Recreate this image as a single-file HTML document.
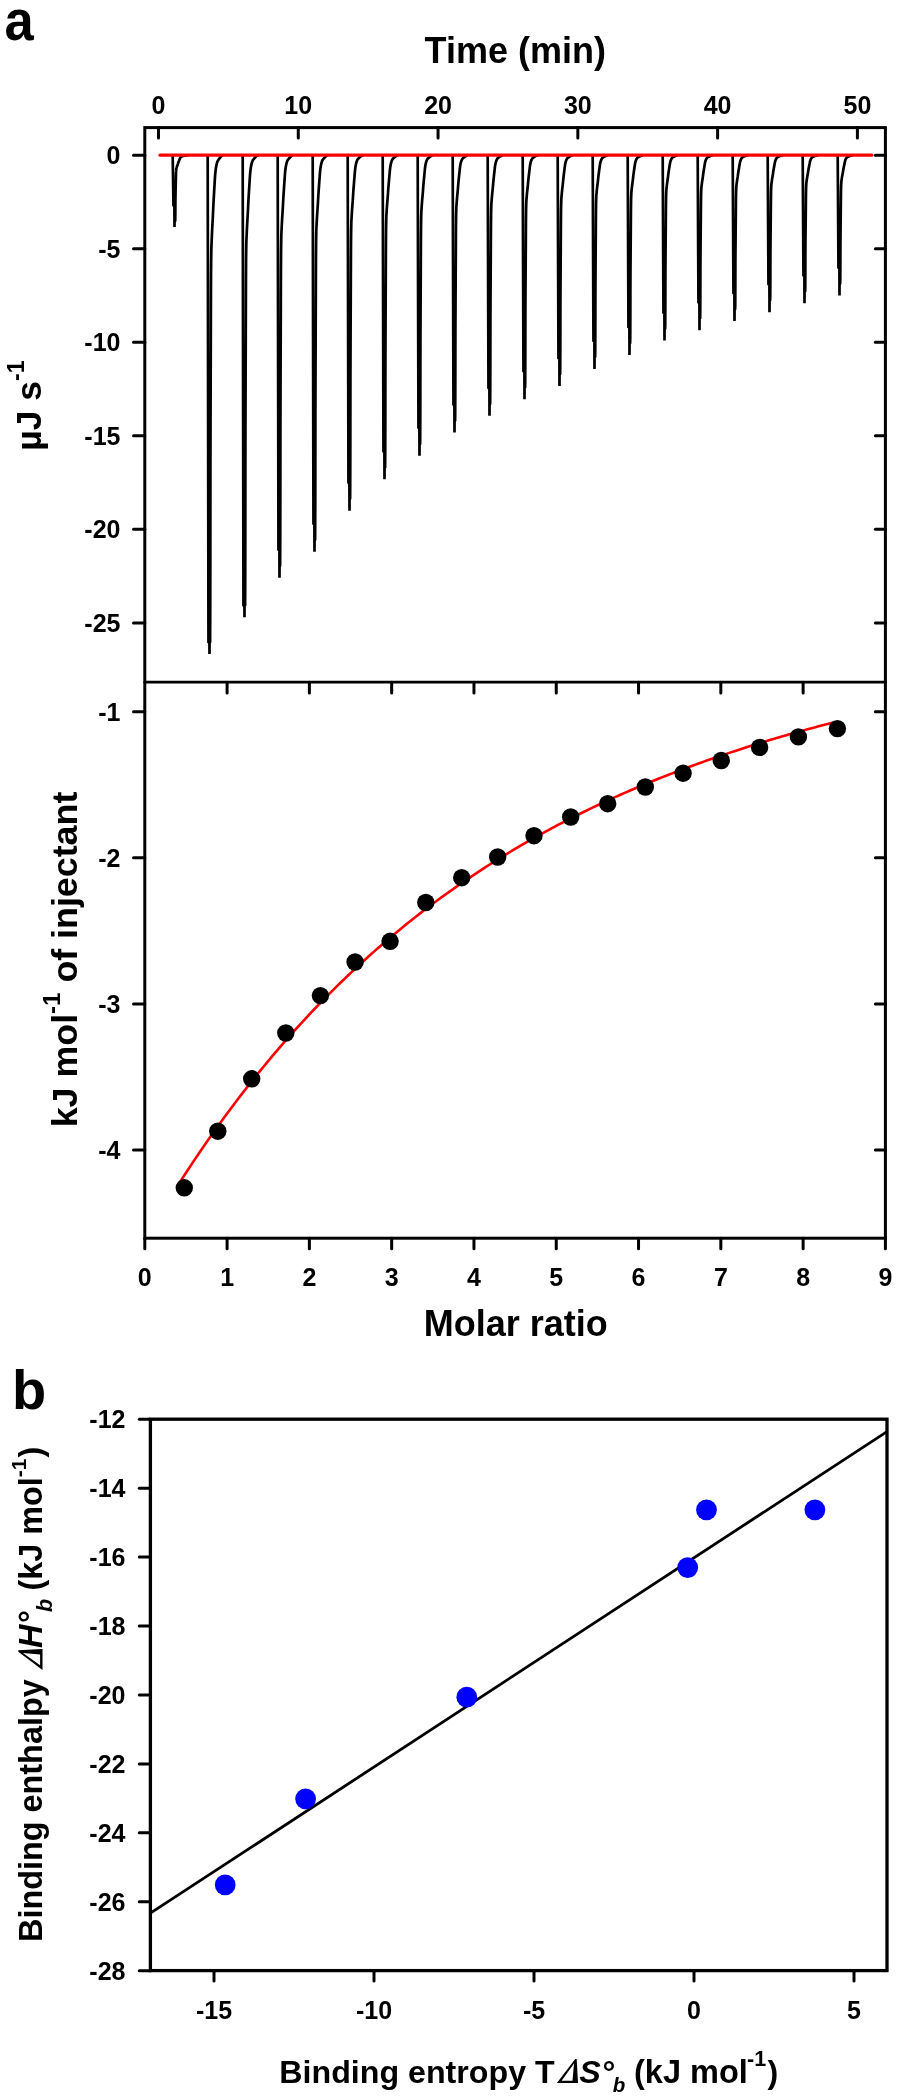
<!DOCTYPE html>
<html><head><meta charset="utf-8"><title>ITC figure</title>
<style>html,body{margin:0;padding:0;background:#fff;}svg{display:block;will-change:transform}text{font-family:"Liberation Sans",sans-serif;}</style>
</head><body>
<svg width="900" height="2099" viewBox="0 0 900 2099">
<rect width="900" height="2099" fill="#fff"/>
<g fill="none" stroke="#000" stroke-width="3" stroke-linecap="round">
<rect x="144.8" y="127.6" width="740.5999999999999" height="1110.6000000000001" stroke-linejoin="miter"/>
<line x1="144.8" y1="682.2" x2="885.4" y2="682.2" stroke-width="2.8"/>
<line x1="158.50" y1="127.6" x2="158.50" y2="137.9"/>
<line x1="298.28" y1="127.6" x2="298.28" y2="137.9"/>
<line x1="438.06" y1="127.6" x2="438.06" y2="137.9"/>
<line x1="577.84" y1="127.6" x2="577.84" y2="137.9"/>
<line x1="717.62" y1="127.6" x2="717.62" y2="137.9"/>
<line x1="857.40" y1="127.6" x2="857.40" y2="137.9"/>
<line x1="133.5" y1="155.20" x2="144.8" y2="155.20"/>
<line x1="875.4" y1="155.20" x2="885.4" y2="155.20"/>
<line x1="133.5" y1="248.74" x2="144.8" y2="248.74"/>
<line x1="875.4" y1="248.74" x2="885.4" y2="248.74"/>
<line x1="133.5" y1="342.28" x2="144.8" y2="342.28"/>
<line x1="875.4" y1="342.28" x2="885.4" y2="342.28"/>
<line x1="133.5" y1="435.82" x2="144.8" y2="435.82"/>
<line x1="875.4" y1="435.82" x2="885.4" y2="435.82"/>
<line x1="133.5" y1="529.36" x2="144.8" y2="529.36"/>
<line x1="875.4" y1="529.36" x2="885.4" y2="529.36"/>
<line x1="133.5" y1="622.90" x2="144.8" y2="622.90"/>
<line x1="875.4" y1="622.90" x2="885.4" y2="622.90"/>
<line x1="133.5" y1="711.80" x2="144.8" y2="711.80"/>
<line x1="875.4" y1="711.80" x2="885.4" y2="711.80"/>
<line x1="133.5" y1="857.87" x2="144.8" y2="857.87"/>
<line x1="875.4" y1="857.87" x2="885.4" y2="857.87"/>
<line x1="133.5" y1="1003.94" x2="144.8" y2="1003.94"/>
<line x1="875.4" y1="1003.94" x2="885.4" y2="1003.94"/>
<line x1="133.5" y1="1150.01" x2="144.8" y2="1150.01"/>
<line x1="875.4" y1="1150.01" x2="885.4" y2="1150.01"/>
<line x1="144.80" y1="1238.2" x2="144.80" y2="1248.7"/>
<line x1="227.09" y1="1238.2" x2="227.09" y2="1248.7"/>
<line x1="227.09" y1="682.2" x2="227.09" y2="692.9000000000001"/>
<line x1="309.38" y1="1238.2" x2="309.38" y2="1248.7"/>
<line x1="309.38" y1="682.2" x2="309.38" y2="692.9000000000001"/>
<line x1="391.67" y1="1238.2" x2="391.67" y2="1248.7"/>
<line x1="391.67" y1="682.2" x2="391.67" y2="692.9000000000001"/>
<line x1="473.96" y1="1238.2" x2="473.96" y2="1248.7"/>
<line x1="473.96" y1="682.2" x2="473.96" y2="692.9000000000001"/>
<line x1="556.25" y1="1238.2" x2="556.25" y2="1248.7"/>
<line x1="556.25" y1="682.2" x2="556.25" y2="692.9000000000001"/>
<line x1="638.54" y1="1238.2" x2="638.54" y2="1248.7"/>
<line x1="638.54" y1="682.2" x2="638.54" y2="692.9000000000001"/>
<line x1="720.83" y1="1238.2" x2="720.83" y2="1248.7"/>
<line x1="720.83" y1="682.2" x2="720.83" y2="692.9000000000001"/>
<line x1="803.12" y1="1238.2" x2="803.12" y2="1248.7"/>
<line x1="803.12" y1="682.2" x2="803.12" y2="692.9000000000001"/>
<line x1="885.41" y1="1238.2" x2="885.41" y2="1248.7"/>
</g>
<g fill="none" stroke="#000" stroke-width="2.7" stroke-linejoin="miter" stroke-miterlimit="1.5" stroke-linecap="butt">
<path d="M172.70,155.70 L173.45,205.46 L174.40,206.26 L174.50,227.00 L174.55,221.80 L175.10,221.00 L175.25,219.56 L175.27,218.13 L175.29,216.69 L175.31,215.26 L175.32,213.82 L175.33,212.38 L175.34,210.95 L175.35,209.51 L175.36,208.08 L175.37,206.64 L175.38,205.20 L175.39,203.77 L175.40,202.33 L175.41,200.90 L175.43,199.46 L175.45,198.02 L175.48,196.59 L175.51,195.15 L175.53,193.72 L175.56,192.28 L175.59,190.84 L175.63,189.41 L175.66,187.97 L175.69,186.54 L175.72,185.10 L175.76,183.66 L175.79,182.23 L175.82,180.79 L175.85,179.36 L175.87,177.92 L175.90,176.48 L175.94,175.05 L175.98,173.61 L176.04,172.18 L176.06,171.89 L176.07,171.60 L176.09,171.31 L176.11,171.03 L176.13,170.74 L176.15,170.45 L176.18,170.17 L176.20,169.88 L176.23,169.59 L176.26,169.30 L176.30,169.02 L176.34,168.73 L176.40,168.44 L176.48,168.16 L176.56,167.87 L176.65,167.58 L176.73,167.29 L176.82,167.01 L176.91,166.72 L177.00,166.43 L177.09,166.14 L177.19,165.86 L177.29,165.57 L177.40,165.28 L177.51,165.00 L177.62,164.71 L177.73,164.42 L177.83,164.13 L177.92,163.85 L178.00,163.56 L178.09,163.27 L178.17,162.99 L178.27,162.70 L178.36,162.41 L178.47,162.12 L178.58,161.84 L178.69,161.55 L178.80,161.26 L178.92,160.98 L179.03,160.69 L179.14,160.40 L179.25,160.11 L179.37,159.83 L179.49,159.54 L179.61,159.25 L179.73,158.96 L179.84,158.68 L179.97,158.39 L180.11,158.10 L180.28,157.82 L180.48,157.53 L180.72,157.24 L181.02,156.95 L181.40,156.67 L181.86,156.38 L182.00,156.31 L182.14,156.24 L182.29,156.16 L182.50,156.09 L182.76,156.02 L183.06,155.95 L183.39,155.88 L183.75,155.81 L184.13,155.73 L184.52,155.66 L184.91,155.59 L185.30,155.52 L185.70,155.45 L186.15,155.37 L186.71,155.30 L187.52,155.23 L188.00,155.20"/>
<path d="M207.70,155.70 L208.45,642.00 L209.40,642.80 L209.50,654.00 L209.55,642.80 L210.10,642.00 L210.14,632.02 L210.18,622.05 L210.22,612.07 L210.25,602.10 L210.27,592.12 L210.29,582.14 L210.31,572.17 L210.32,562.19 L210.33,552.22 L210.34,542.24 L210.35,532.26 L210.36,522.29 L210.37,512.31 L210.38,502.34 L210.39,492.36 L210.40,482.38 L210.41,472.41 L210.43,462.43 L210.45,452.46 L210.48,442.48 L210.51,432.50 L210.54,422.53 L210.56,412.55 L210.60,402.58 L210.63,392.60 L210.66,382.62 L210.69,372.65 L210.73,362.67 L210.76,352.70 L210.79,342.72 L210.82,332.74 L210.85,322.77 L210.88,312.79 L210.90,302.82 L210.94,292.84 L210.98,282.86 L211.04,272.89 L211.06,270.89 L211.07,268.90 L211.09,266.90 L211.11,264.91 L211.13,262.91 L211.15,260.92 L211.18,258.92 L211.21,256.93 L211.24,254.93 L211.27,252.94 L211.30,250.94 L211.35,248.95 L211.41,246.95 L211.49,244.96 L211.57,242.96 L211.66,240.96 L211.74,238.97 L211.83,236.97 L211.92,234.98 L212.01,232.98 L212.10,230.99 L212.20,228.99 L212.30,227.00 L212.41,225.00 L212.52,223.01 L212.63,221.01 L212.74,219.02 L212.84,217.02 L212.93,215.03 L213.01,213.03 L213.10,211.04 L213.19,209.04 L213.28,207.05 L213.38,205.05 L213.48,203.06 L213.59,201.06 L213.70,199.07 L213.82,197.07 L213.93,195.08 L214.04,193.08 L214.15,191.08 L214.27,189.09 L214.39,187.09 L214.51,185.10 L214.63,183.10 L214.74,181.11 L214.86,179.11 L214.98,177.12 L215.13,175.12 L215.30,173.13 L215.51,171.13 L215.76,169.14 L216.06,167.14 L216.45,165.15 L216.56,164.65 L216.67,164.15 L216.80,163.65 L216.93,163.15 L217.06,162.65 L217.21,162.15 L217.39,161.66 L217.62,161.16 L217.90,160.66 L218.22,160.16 L218.56,159.66 L218.93,159.16 L219.32,158.66 L219.71,158.16 L220.10,157.67 L220.49,157.17 L220.91,156.67 L221.41,156.17 L222.04,155.67 L223.00,155.20"/>
<path d="M242.70,155.70 L243.45,605.30 L244.40,606.10 L244.50,617.30 L244.55,606.10 L245.10,605.30 L245.15,596.06 L245.19,586.82 L245.22,577.57 L245.25,568.33 L245.27,559.09 L245.29,549.85 L245.31,540.61 L245.32,531.36 L245.33,522.12 L245.34,512.88 L245.35,503.64 L245.36,494.40 L245.37,485.15 L245.38,475.91 L245.39,466.67 L245.40,457.43 L245.42,448.19 L245.43,438.94 L245.46,429.70 L245.48,420.46 L245.51,411.22 L245.54,401.98 L245.57,392.73 L245.60,383.49 L245.63,374.25 L245.66,365.01 L245.70,355.77 L245.73,346.52 L245.76,337.28 L245.79,328.04 L245.82,318.80 L245.85,309.56 L245.88,300.31 L245.91,291.07 L245.94,281.83 L245.99,272.59 L246.05,263.35 L246.07,261.50 L246.08,259.65 L246.10,257.80 L246.12,255.95 L246.14,254.10 L246.17,252.26 L246.19,250.41 L246.22,248.56 L246.25,246.71 L246.28,244.86 L246.32,243.01 L246.38,241.17 L246.45,239.32 L246.53,237.47 L246.62,235.62 L246.70,233.77 L246.78,231.92 L246.87,230.07 L246.96,228.23 L247.05,226.38 L247.15,224.53 L247.25,222.68 L247.36,220.83 L247.47,218.98 L247.58,217.14 L247.68,215.29 L247.79,213.44 L247.88,211.59 L247.97,209.74 L248.05,207.89 L248.14,206.05 L248.23,204.20 L248.32,202.35 L248.43,200.50 L248.53,198.65 L248.65,196.80 L248.76,194.96 L248.87,193.11 L248.98,191.26 L249.10,189.41 L249.21,187.56 L249.32,185.71 L249.44,183.86 L249.56,182.02 L249.68,180.17 L249.79,178.32 L249.91,176.47 L250.05,174.62 L250.21,172.77 L250.40,170.93 L250.62,169.08 L250.89,167.23 L251.24,165.38 L251.66,163.53 L251.79,163.07 L251.91,162.61 L252.05,162.15 L252.20,161.68 L252.37,161.22 L252.60,160.76 L252.87,160.30 L253.19,159.84 L253.53,159.37 L253.90,158.91 L254.28,158.45 L254.67,157.99 L255.07,157.53 L255.45,157.06 L255.87,156.60 L256.36,156.14 L256.98,155.68 L257.97,155.21 L258.00,155.20"/>
<path d="M277.70,155.70 L278.45,549.70 L279.40,550.50 L279.50,577.70 L279.55,566.50 L280.10,565.70 L280.15,557.25 L280.19,548.80 L280.22,540.35 L280.25,531.90 L280.27,523.45 L280.29,515.00 L280.31,506.55 L280.32,498.10 L280.33,489.65 L280.34,481.20 L280.35,472.75 L280.36,464.30 L280.37,455.85 L280.38,447.40 L280.39,438.95 L280.40,430.50 L280.42,422.05 L280.44,413.60 L280.46,405.15 L280.49,396.70 L280.51,388.25 L280.54,379.80 L280.57,371.35 L280.60,362.90 L280.63,354.45 L280.67,346.00 L280.70,337.55 L280.73,329.10 L280.77,320.65 L280.80,312.20 L280.83,303.75 L280.85,295.30 L280.88,286.85 L280.91,278.40 L280.95,269.95 L281.00,261.50 L281.06,253.05 L281.08,251.36 L281.09,249.67 L281.11,247.98 L281.13,246.29 L281.16,244.60 L281.18,242.91 L281.21,241.22 L281.24,239.53 L281.27,237.84 L281.30,236.15 L281.35,234.46 L281.42,232.77 L281.50,231.08 L281.58,229.39 L281.67,227.70 L281.75,226.01 L281.83,224.32 L281.92,222.63 L282.02,220.94 L282.11,219.25 L282.21,217.56 L282.31,215.87 L282.42,214.18 L282.53,212.49 L282.64,210.80 L282.75,209.11 L282.85,207.42 L282.94,205.73 L283.02,204.04 L283.11,202.35 L283.19,200.66 L283.29,198.97 L283.39,197.28 L283.49,195.59 L283.60,193.90 L283.71,192.21 L283.83,190.52 L283.94,188.83 L284.05,187.14 L284.16,185.45 L284.28,183.76 L284.40,182.07 L284.52,180.38 L284.64,178.69 L284.75,177.00 L284.87,175.31 L284.99,173.62 L285.14,171.93 L285.32,170.24 L285.53,168.55 L285.78,166.86 L286.09,165.17 L286.48,163.48 L286.60,163.06 L286.72,162.63 L286.84,162.21 L286.97,161.79 L287.11,161.37 L287.26,160.94 L287.46,160.52 L287.71,160.10 L288.01,159.68 L288.33,159.25 L288.69,158.83 L289.06,158.41 L289.45,157.99 L289.84,157.56 L290.23,157.14 L290.63,156.72 L291.07,156.30 L291.61,155.87 L292.35,155.45 L293.00,155.20"/>
<path d="M312.70,155.70 L313.45,523.70 L314.40,524.50 L314.50,551.70 L314.55,540.50 L315.10,539.70 L315.16,531.77 L315.19,523.84 L315.23,515.91 L315.25,507.98 L315.28,500.05 L315.29,492.12 L315.31,484.19 L315.32,476.26 L315.33,468.33 L315.34,460.40 L315.35,452.47 L315.36,444.54 L315.37,436.61 L315.38,428.68 L315.39,420.75 L315.40,412.82 L315.42,404.89 L315.44,396.96 L315.46,389.03 L315.49,381.10 L315.52,373.17 L315.54,365.24 L315.57,357.31 L315.61,349.38 L315.64,341.45 L315.67,333.52 L315.70,325.59 L315.74,317.66 L315.77,309.73 L315.80,301.80 L315.83,293.87 L315.86,285.94 L315.88,278.01 L315.92,270.08 L315.95,262.15 L316.00,254.22 L316.01,252.63 L316.02,251.05 L316.04,249.46 L316.05,247.88 L316.07,246.29 L316.08,244.70 L316.10,243.12 L316.12,241.53 L316.14,239.95 L316.17,238.36 L316.19,236.77 L316.22,235.19 L316.25,233.60 L316.28,232.02 L316.32,230.43 L316.38,228.84 L316.45,227.26 L316.54,225.67 L316.62,224.09 L316.71,222.50 L316.79,220.91 L316.88,219.33 L316.97,217.74 L317.06,216.16 L317.16,214.57 L317.26,212.98 L317.36,211.40 L317.47,209.81 L317.58,208.23 L317.69,206.64 L317.79,205.05 L317.89,203.47 L317.98,201.88 L318.06,200.30 L318.15,198.71 L318.24,197.12 L318.33,195.54 L318.43,193.95 L318.54,192.37 L318.65,190.78 L318.77,189.19 L318.88,187.61 L318.99,186.02 L319.10,184.44 L319.22,182.85 L319.33,181.26 L319.45,179.68 L319.57,178.09 L319.69,176.51 L319.80,174.92 L319.92,173.33 L320.06,171.75 L320.22,170.16 L320.41,168.58 L320.64,166.99 L320.92,165.40 L321.26,163.82 L321.70,162.23 L321.82,161.84 L321.95,161.44 L322.09,161.04 L322.24,160.65 L322.43,160.25 L322.68,159.85 L322.96,159.46 L323.29,159.06 L323.64,158.66 L324.01,158.27 L324.40,157.87 L324.79,157.47 L325.18,157.08 L325.57,156.68 L326.01,156.28 L326.53,155.89 L327.22,155.49 L328.00,155.20"/>
<path d="M347.70,155.70 L348.45,482.70 L349.40,483.50 L349.50,510.70 L349.55,499.50 L350.10,498.70 L350.16,491.59 L350.20,484.48 L350.23,477.37 L350.26,470.26 L350.28,463.15 L350.30,456.04 L350.31,448.93 L350.33,441.82 L350.34,434.71 L350.34,427.60 L350.35,420.49 L350.36,413.38 L350.37,406.27 L350.38,399.16 L350.39,392.05 L350.41,384.94 L350.42,377.83 L350.44,370.72 L350.47,363.61 L350.49,356.50 L350.52,349.39 L350.55,342.28 L350.58,335.17 L350.61,328.06 L350.64,320.95 L350.68,313.84 L350.71,306.73 L350.74,299.62 L350.77,292.51 L350.81,285.40 L350.83,278.29 L350.86,271.18 L350.89,264.07 L350.92,256.96 L350.96,249.85 L351.01,242.74 L351.02,241.32 L351.04,239.90 L351.05,238.47 L351.06,237.05 L351.08,235.63 L351.10,234.21 L351.12,232.79 L351.14,231.36 L351.16,229.94 L351.19,228.52 L351.22,227.10 L351.25,225.68 L351.28,224.25 L351.32,222.83 L351.37,221.41 L351.44,219.99 L351.53,218.57 L351.61,217.14 L351.70,215.72 L351.78,214.30 L351.86,212.88 L351.96,211.46 L352.05,210.03 L352.15,208.61 L352.24,207.19 L352.35,205.77 L352.46,204.35 L352.57,202.92 L352.68,201.50 L352.78,200.08 L352.88,198.66 L352.96,197.24 L353.05,195.81 L353.13,194.39 L353.22,192.97 L353.32,191.55 L353.42,190.13 L353.53,188.70 L353.64,187.28 L353.75,185.86 L353.87,184.44 L353.98,183.02 L354.09,181.59 L354.20,180.17 L354.32,178.75 L354.44,177.33 L354.56,175.91 L354.68,174.48 L354.79,173.06 L354.91,171.64 L355.04,170.22 L355.20,168.80 L355.39,167.37 L355.61,165.95 L355.88,164.53 L356.22,163.11 L356.64,161.69 L356.76,161.33 L356.89,160.97 L357.02,160.62 L357.16,160.26 L357.33,159.91 L357.55,159.55 L357.81,159.20 L358.12,158.84 L358.46,158.49 L358.82,158.13 L359.20,157.78 L359.59,157.42 L359.98,157.06 L360.37,156.71 L360.78,156.35 L361.25,156.00 L361.83,155.64 L362.73,155.29 L363.00,155.20"/>
<path d="M382.70,155.70 L383.45,451.30 L384.40,452.10 L384.50,479.30 L384.55,468.10 L385.10,467.30 L385.17,460.82 L385.21,454.34 L385.24,447.85 L385.26,441.37 L385.28,434.89 L385.30,428.41 L385.31,421.93 L385.33,415.44 L385.34,408.96 L385.35,402.48 L385.35,396.00 L385.36,389.52 L385.37,383.03 L385.38,376.55 L385.39,370.07 L385.41,363.59 L385.43,357.11 L385.45,350.62 L385.47,344.14 L385.50,337.66 L385.52,331.18 L385.55,324.70 L385.58,318.21 L385.62,311.73 L385.65,305.25 L385.68,298.77 L385.71,292.29 L385.75,285.80 L385.78,279.32 L385.81,272.84 L385.84,266.36 L385.87,259.88 L385.89,253.39 L385.93,246.91 L385.97,240.43 L386.02,233.95 L386.03,232.65 L386.05,231.36 L386.06,230.06 L386.08,228.76 L386.10,227.47 L386.12,226.17 L386.14,224.87 L386.16,223.58 L386.19,222.28 L386.21,220.98 L386.24,219.69 L386.27,218.39 L386.31,217.09 L386.36,215.80 L386.43,214.50 L386.51,213.21 L386.60,211.91 L386.68,210.61 L386.76,209.32 L386.85,208.02 L386.94,206.72 L387.03,205.43 L387.13,204.13 L387.23,202.83 L387.33,201.54 L387.44,200.24 L387.55,198.95 L387.66,197.65 L387.76,196.35 L387.86,195.06 L387.95,193.76 L388.03,192.46 L388.12,191.17 L388.21,189.87 L388.30,188.57 L388.40,187.28 L388.51,185.98 L388.62,184.68 L388.73,183.39 L388.84,182.09 L388.96,180.80 L389.07,179.50 L389.18,178.20 L389.30,176.91 L389.41,175.61 L389.54,174.31 L389.65,173.02 L389.77,171.72 L389.88,170.42 L390.01,169.13 L390.17,167.83 L390.35,166.54 L390.57,165.24 L390.83,163.94 L391.15,162.65 L391.55,161.35 L391.67,161.03 L391.79,160.70 L391.92,160.38 L392.06,160.05 L392.20,159.73 L392.38,159.40 L392.61,159.08 L392.89,158.76 L393.21,158.43 L393.55,158.11 L393.92,157.78 L394.30,157.46 L394.70,157.14 L395.09,156.81 L395.48,156.49 L395.90,156.16 L396.39,155.84 L397.02,155.52 L398.00,155.20"/>
<path d="M417.70,155.70 L418.45,427.70 L419.40,428.50 L419.50,455.70 L419.55,444.50 L420.10,443.70 L420.18,437.69 L420.21,431.68 L420.24,425.67 L420.27,419.66 L420.29,413.65 L420.30,407.64 L420.32,401.63 L420.33,395.62 L420.34,389.61 L420.35,383.60 L420.36,377.59 L420.36,371.58 L420.37,365.57 L420.38,359.56 L420.40,353.55 L420.41,347.54 L420.43,341.53 L420.45,335.52 L420.47,329.51 L420.50,323.50 L420.53,317.49 L420.56,311.48 L420.59,305.47 L420.62,299.46 L420.65,293.45 L420.69,287.44 L420.72,281.43 L420.75,275.42 L420.78,269.41 L420.82,263.40 L420.84,257.39 L420.87,251.38 L420.90,245.37 L420.93,239.36 L420.97,233.35 L421.03,227.34 L421.04,226.14 L421.06,224.94 L421.07,223.73 L421.09,222.53 L421.11,221.33 L421.13,220.13 L421.15,218.93 L421.18,217.72 L421.21,216.52 L421.23,215.32 L421.27,214.12 L421.30,212.92 L421.35,211.71 L421.41,210.51 L421.49,209.31 L421.57,208.11 L421.66,206.91 L421.74,205.70 L421.82,204.50 L421.91,203.30 L422.01,202.10 L422.10,200.90 L422.20,199.69 L422.30,198.49 L422.41,197.29 L422.52,196.09 L422.63,194.89 L422.74,193.68 L422.83,192.48 L422.92,191.28 L423.01,190.08 L423.10,188.88 L423.18,187.67 L423.27,186.47 L423.37,185.27 L423.48,184.07 L423.59,182.87 L423.70,181.66 L423.81,180.46 L423.93,179.26 L424.04,178.06 L424.15,176.86 L424.27,175.65 L424.38,174.45 L424.50,173.25 L424.62,172.05 L424.74,170.85 L424.85,169.64 L424.98,168.44 L425.12,167.24 L425.30,166.04 L425.50,164.84 L425.75,163.63 L426.05,162.43 L426.43,161.23 L426.91,160.03 L427.05,159.73 L427.19,159.43 L427.36,159.13 L427.59,158.83 L427.86,158.53 L428.18,158.22 L428.52,157.92 L428.89,157.62 L429.27,157.32 L429.66,157.02 L430.05,156.72 L430.44,156.42 L430.85,156.12 L431.34,155.82 L431.95,155.52 L432.93,155.22 L433.00,155.20"/>
<path d="M452.70,155.70 L453.45,404.50 L454.40,405.30 L454.50,432.50 L454.55,421.30 L455.10,420.50 L455.18,414.95 L455.22,409.41 L455.24,403.86 L455.27,398.32 L455.29,392.77 L455.31,387.22 L455.32,381.68 L455.33,376.13 L455.34,370.59 L455.35,365.04 L455.36,359.49 L455.37,353.95 L455.37,348.40 L455.39,342.86 L455.40,337.31 L455.41,331.76 L455.43,326.22 L455.45,320.67 L455.48,315.13 L455.51,309.58 L455.53,304.03 L455.56,298.49 L455.59,292.94 L455.63,287.40 L455.66,281.85 L455.69,276.30 L455.72,270.76 L455.76,265.21 L455.79,259.67 L455.82,254.12 L455.85,248.57 L455.87,243.03 L455.90,237.48 L455.94,231.94 L455.98,226.39 L456.04,220.84 L456.06,219.73 L456.07,218.63 L456.09,217.52 L456.11,216.41 L456.13,215.30 L456.15,214.19 L456.17,213.08 L456.20,211.97 L456.23,210.86 L456.26,209.75 L456.29,208.64 L456.34,207.53 L456.40,206.42 L456.47,205.32 L456.56,204.21 L456.64,203.10 L456.73,201.99 L456.81,200.88 L456.90,199.77 L456.99,198.66 L457.09,197.55 L457.18,196.44 L457.28,195.33 L457.39,194.22 L457.50,193.11 L457.61,192.00 L457.72,190.90 L457.82,189.79 L457.91,188.68 L458.00,187.57 L458.08,186.46 L458.17,185.35 L458.26,184.24 L458.36,183.13 L458.46,182.02 L458.57,180.91 L458.68,179.80 L458.79,178.69 L458.91,177.59 L459.02,176.48 L459.13,175.37 L459.25,174.26 L459.36,173.15 L459.48,172.04 L459.60,170.93 L459.72,169.82 L459.83,168.71 L459.96,167.60 L460.10,166.49 L460.27,165.38 L460.47,164.27 L460.70,163.17 L461.00,162.06 L461.36,160.95 L461.82,159.84 L461.96,159.56 L462.09,159.28 L462.24,159.01 L462.44,158.73 L462.68,158.45 L462.97,158.17 L463.29,157.90 L463.64,157.62 L464.02,157.34 L464.40,157.06 L464.79,156.79 L465.18,156.51 L465.58,156.23 L466.01,155.96 L466.54,155.68 L467.22,155.40 L468.00,155.20"/>
<path d="M487.70,155.70 L488.45,387.80 L489.40,388.60 L489.50,415.80 L489.55,404.60 L490.10,403.80 L490.19,398.59 L490.22,393.38 L490.25,388.16 L490.27,382.95 L490.29,377.74 L490.31,372.53 L490.32,367.32 L490.33,362.10 L490.34,356.89 L490.35,351.68 L490.36,346.47 L490.37,341.26 L490.38,336.04 L490.39,330.83 L490.40,325.62 L490.42,320.41 L490.43,315.20 L490.46,309.98 L490.48,304.77 L490.51,299.56 L490.54,294.35 L490.57,289.14 L490.60,283.92 L490.63,278.71 L490.66,273.50 L490.70,268.29 L490.73,263.08 L490.76,257.86 L490.79,252.65 L490.82,247.44 L490.85,242.23 L490.88,237.02 L490.91,231.80 L490.94,226.59 L490.99,221.38 L491.05,216.17 L491.07,215.13 L491.08,214.08 L491.10,213.04 L491.12,212.00 L491.14,210.96 L491.17,209.91 L491.19,208.87 L491.22,207.83 L491.25,206.79 L491.28,205.74 L491.32,204.70 L491.38,203.66 L491.45,202.62 L491.53,201.57 L491.62,200.53 L491.70,199.49 L491.78,198.45 L491.87,197.40 L491.96,196.36 L492.06,195.32 L492.15,194.28 L492.25,193.24 L492.36,192.19 L492.47,191.15 L492.58,190.11 L492.69,189.07 L492.79,188.02 L492.88,186.98 L492.97,185.94 L493.06,184.90 L493.14,183.85 L493.23,182.81 L493.33,181.77 L493.43,180.73 L493.54,179.68 L493.65,178.64 L493.76,177.60 L493.87,176.56 L493.99,175.51 L494.10,174.47 L494.21,173.43 L494.33,172.39 L494.44,171.34 L494.57,170.30 L494.68,169.26 L494.80,168.22 L494.92,167.18 L495.05,166.13 L495.21,165.09 L495.40,164.05 L495.63,163.01 L495.90,161.96 L496.24,160.92 L496.67,159.88 L496.80,159.62 L496.93,159.36 L497.06,159.10 L497.21,158.84 L497.39,158.58 L497.62,158.31 L497.90,158.05 L498.21,157.79 L498.56,157.53 L498.93,157.27 L499.31,157.01 L499.70,156.75 L500.10,156.49 L500.48,156.23 L500.91,155.97 L501.41,155.71 L502.03,155.45 L503.00,155.20"/>
<path d="M522.70,155.70 L523.45,371.20 L524.40,372.00 L524.50,399.20 L524.55,388.00 L525.10,387.20 L525.19,382.32 L525.23,377.44 L525.25,372.56 L525.28,367.68 L525.29,362.80 L525.31,357.92 L525.32,353.04 L525.33,348.16 L525.34,343.28 L525.35,338.40 L525.36,333.52 L525.37,328.64 L525.38,323.76 L525.39,318.88 L525.40,314.00 L525.42,309.12 L525.44,304.24 L525.46,299.36 L525.49,294.48 L525.51,289.60 L525.54,284.72 L525.57,279.84 L525.60,274.96 L525.64,270.08 L525.67,265.20 L525.70,260.32 L525.73,255.44 L525.77,250.56 L525.80,245.68 L525.83,240.80 L525.86,235.92 L525.88,231.04 L525.91,226.16 L525.95,221.28 L526.00,216.40 L526.06,211.52 L526.08,210.54 L526.10,209.57 L526.12,208.59 L526.14,207.62 L526.16,206.64 L526.19,205.66 L526.21,204.69 L526.24,203.71 L526.28,202.74 L526.31,201.76 L526.36,200.78 L526.43,199.81 L526.51,198.83 L526.60,197.86 L526.68,196.88 L526.77,195.90 L526.85,194.93 L526.94,193.95 L527.04,192.98 L527.13,192.00 L527.23,191.02 L527.33,190.05 L527.44,189.07 L527.55,188.10 L527.66,187.12 L527.77,186.14 L527.86,185.17 L527.95,184.19 L528.04,183.22 L528.12,182.24 L528.21,181.26 L528.30,180.29 L528.41,179.31 L528.51,178.34 L528.62,177.36 L528.74,176.38 L528.85,175.41 L528.96,174.43 L529.07,173.46 L529.19,172.48 L529.30,171.50 L529.42,170.53 L529.54,169.55 L529.66,168.58 L529.77,167.60 L529.89,166.62 L530.02,165.65 L530.17,164.67 L530.36,163.70 L530.57,162.72 L530.84,161.74 L531.16,160.77 L531.57,159.79 L531.69,159.55 L531.81,159.30 L531.94,159.06 L532.08,158.82 L532.23,158.57 L532.41,158.33 L532.65,158.08 L532.94,157.84 L533.26,157.60 L533.61,157.35 L533.98,157.11 L534.37,156.86 L534.76,156.62 L535.15,156.38 L535.54,156.13 L535.97,155.89 L536.48,155.64 L537.14,155.40 L538.00,155.20"/>
<path d="M557.70,155.70 L558.45,358.10 L559.40,358.90 L559.50,386.10 L559.55,374.90 L560.10,374.10 L560.20,369.48 L560.23,364.86 L560.26,360.25 L560.28,355.63 L560.30,351.01 L560.31,346.39 L560.32,341.77 L560.33,337.16 L560.34,332.54 L560.35,327.92 L560.36,323.30 L560.37,318.68 L560.38,314.07 L560.39,309.45 L560.40,304.83 L560.42,300.21 L560.44,295.59 L560.46,290.98 L560.49,286.36 L560.52,281.74 L560.55,277.12 L560.58,272.50 L560.61,267.89 L560.64,263.27 L560.67,258.65 L560.71,254.03 L560.74,249.41 L560.77,244.80 L560.80,240.18 L560.83,235.56 L560.86,230.94 L560.89,226.32 L560.92,221.71 L560.96,217.09 L561.01,212.47 L561.02,211.55 L561.03,210.62 L561.04,209.70 L561.06,208.78 L561.07,207.85 L561.09,206.93 L561.11,206.00 L561.13,205.08 L561.15,204.16 L561.18,203.23 L561.21,202.31 L561.23,201.39 L561.27,200.46 L561.30,199.54 L561.35,198.62 L561.41,197.69 L561.49,196.77 L561.57,195.85 L561.66,194.92 L561.74,194.00 L561.83,193.07 L561.91,192.15 L562.01,191.23 L562.10,190.30 L562.20,189.38 L562.30,188.46 L562.41,187.53 L562.52,186.61 L562.63,185.69 L562.74,184.76 L562.84,183.84 L562.93,182.91 L563.01,181.99 L563.10,181.07 L563.18,180.14 L563.28,179.22 L563.37,178.30 L563.48,177.37 L563.59,176.45 L563.70,175.53 L563.81,174.60 L563.93,173.68 L564.04,172.76 L564.15,171.83 L564.27,170.91 L564.38,169.98 L564.50,169.06 L564.62,168.14 L564.74,167.21 L564.85,166.29 L564.98,165.37 L565.12,164.44 L565.30,163.52 L565.50,162.60 L565.75,161.67 L566.06,160.75 L566.44,159.82 L566.92,158.90 L567.05,158.67 L567.20,158.44 L567.37,158.21 L567.60,157.98 L567.88,157.75 L568.19,157.52 L568.53,157.28 L568.90,157.05 L569.28,156.82 L569.67,156.59 L570.07,156.36 L570.45,156.13 L570.87,155.90 L571.36,155.67 L571.98,155.44 L572.97,155.21 L573.00,155.20"/>
<path d="M592.70,155.70 L593.45,340.90 L594.40,341.70 L594.50,368.90 L594.55,357.70 L595.10,356.90 L595.20,352.63 L595.24,348.35 L595.26,344.08 L595.28,339.80 L595.30,335.53 L595.31,331.26 L595.33,326.98 L595.34,322.71 L595.35,318.43 L595.35,314.16 L595.36,309.89 L595.37,305.61 L595.38,301.34 L595.39,297.06 L595.41,292.79 L595.42,288.52 L595.45,284.24 L595.47,279.97 L595.50,275.69 L595.52,271.42 L595.55,267.15 L595.58,262.87 L595.61,258.60 L595.65,254.32 L595.68,250.05 L595.71,245.78 L595.75,241.50 L595.78,237.23 L595.81,232.95 L595.84,228.68 L595.86,224.41 L595.89,220.13 L595.93,215.86 L595.97,211.58 L596.02,207.31 L596.03,206.46 L596.04,205.60 L596.06,204.75 L596.07,203.89 L596.09,203.04 L596.11,202.18 L596.13,201.33 L596.16,200.47 L596.18,199.62 L596.21,198.76 L596.24,197.91 L596.27,197.05 L596.30,196.20 L596.35,195.34 L596.41,194.49 L596.49,193.63 L596.58,192.78 L596.66,191.92 L596.74,191.07 L596.83,190.21 L596.92,189.36 L597.01,188.50 L597.11,187.65 L597.20,186.79 L597.31,185.94 L597.41,185.09 L597.53,184.23 L597.64,183.38 L597.74,182.52 L597.84,181.67 L597.93,180.81 L598.02,179.96 L598.10,179.10 L598.19,178.25 L598.28,177.39 L598.38,176.54 L598.48,175.68 L598.59,174.83 L598.71,173.97 L598.82,173.12 L598.93,172.26 L599.04,171.41 L599.16,170.55 L599.27,169.70 L599.39,168.84 L599.51,167.99 L599.63,167.13 L599.74,166.28 L599.86,165.42 L599.98,164.57 L600.13,163.72 L600.31,162.86 L600.52,162.01 L600.76,161.15 L601.07,160.30 L601.46,159.44 L601.57,159.23 L601.69,159.01 L601.81,158.80 L601.94,158.59 L602.08,158.37 L602.22,158.16 L602.41,157.95 L602.65,157.73 L602.93,157.52 L603.25,157.30 L603.60,157.09 L603.97,156.88 L604.35,156.66 L604.75,156.45 L605.14,156.24 L605.53,156.02 L605.95,155.81 L606.47,155.59 L607.12,155.38 L608.00,155.20"/>
<path d="M627.70,155.70 L628.45,327.00 L629.40,327.80 L629.50,355.00 L629.55,343.80 L630.10,343.00 L630.21,339.00 L630.24,335.01 L630.27,331.01 L630.29,327.02 L630.30,323.02 L630.32,319.02 L630.33,315.03 L630.34,311.03 L630.35,307.04 L630.36,303.04 L630.36,299.04 L630.37,295.05 L630.38,291.05 L630.40,287.06 L630.41,283.06 L630.43,279.06 L630.45,275.07 L630.47,271.07 L630.50,267.08 L630.53,263.08 L630.56,259.08 L630.59,255.09 L630.62,251.09 L630.65,247.10 L630.69,243.10 L630.72,239.10 L630.75,235.11 L630.78,231.11 L630.82,227.12 L630.84,223.12 L630.87,219.12 L630.90,215.13 L630.93,211.13 L630.97,207.14 L631.03,203.14 L631.04,202.34 L631.06,201.54 L631.07,200.74 L631.09,199.94 L631.11,199.14 L631.13,198.34 L631.15,197.55 L631.18,196.75 L631.21,195.95 L631.24,195.15 L631.27,194.35 L631.30,193.55 L631.35,192.75 L631.41,191.95 L631.49,191.15 L631.57,190.35 L631.66,189.55 L631.74,188.75 L631.83,187.96 L631.92,187.16 L632.01,186.36 L632.10,185.56 L632.20,184.76 L632.30,183.96 L632.41,183.16 L632.52,182.36 L632.63,181.56 L632.74,180.76 L632.84,179.96 L632.93,179.16 L633.01,178.36 L633.10,177.57 L633.19,176.77 L633.28,175.97 L633.38,175.17 L633.48,174.37 L633.59,173.57 L633.70,172.77 L633.82,171.97 L633.93,171.17 L634.04,170.37 L634.15,169.57 L634.27,168.77 L634.39,167.98 L634.51,167.18 L634.63,166.38 L634.74,165.58 L634.86,164.78 L634.98,163.98 L635.13,163.18 L635.30,162.38 L635.51,161.58 L635.76,160.78 L636.06,159.98 L636.45,159.18 L636.56,158.98 L636.67,158.78 L636.80,158.58 L636.93,158.38 L637.06,158.18 L637.21,157.99 L637.39,157.79 L637.62,157.59 L637.90,157.39 L638.22,157.19 L638.56,156.99 L638.93,156.79 L639.32,156.59 L639.71,156.39 L640.10,156.19 L640.49,155.99 L640.91,155.79 L641.41,155.59 L642.04,155.39 L643.00,155.20"/>
<path d="M662.70,155.70 L663.45,312.60 L664.40,313.40 L664.50,340.60 L664.55,329.40 L665.10,328.60 L665.22,324.89 L665.25,321.18 L665.27,317.48 L665.29,313.77 L665.31,310.06 L665.32,306.35 L665.33,302.64 L665.34,298.94 L665.35,295.23 L665.36,291.52 L665.37,287.81 L665.38,284.10 L665.39,280.40 L665.40,276.69 L665.41,272.98 L665.43,269.27 L665.46,265.56 L665.48,261.86 L665.51,258.15 L665.54,254.44 L665.57,250.73 L665.60,247.02 L665.63,243.32 L665.66,239.61 L665.69,235.90 L665.73,232.19 L665.76,228.48 L665.79,224.78 L665.82,221.07 L665.85,217.36 L665.88,213.65 L665.91,209.94 L665.94,206.24 L665.99,202.53 L666.05,198.82 L666.06,198.08 L666.08,197.34 L666.09,196.60 L666.11,195.85 L666.14,195.11 L666.16,194.37 L666.18,193.63 L666.21,192.89 L666.24,192.15 L666.27,191.40 L666.31,190.66 L666.36,189.92 L666.42,189.18 L666.50,188.44 L666.59,187.70 L666.67,186.95 L666.76,186.21 L666.84,185.47 L666.93,184.73 L667.02,183.99 L667.12,183.25 L667.22,182.50 L667.32,181.76 L667.43,181.02 L667.54,180.28 L667.65,179.54 L667.76,178.80 L667.85,178.06 L667.94,177.31 L668.03,176.57 L668.11,175.83 L668.20,175.09 L668.29,174.35 L668.39,173.61 L668.50,172.86 L668.61,172.12 L668.72,171.38 L668.84,170.64 L668.95,169.90 L669.06,169.16 L669.17,168.41 L669.29,167.67 L669.41,166.93 L669.53,166.19 L669.65,165.45 L669.76,164.71 L669.88,163.96 L670.00,163.22 L670.15,162.48 L670.34,161.74 L670.55,161.00 L670.80,160.26 L671.12,159.52 L671.52,158.77 L671.63,158.59 L671.76,158.40 L671.88,158.22 L672.02,158.03 L672.16,157.85 L672.32,157.66 L672.54,157.48 L672.80,157.29 L673.11,157.10 L673.45,156.92 L673.81,156.73 L674.19,156.55 L674.58,156.36 L674.97,156.18 L675.36,155.99 L675.76,155.81 L676.23,155.62 L676.81,155.44 L677.69,155.25 L678.00,155.20"/>
<path d="M697.70,155.70 L698.45,302.30 L699.40,303.10 L699.50,330.30 L699.55,319.10 L700.10,318.30 L700.22,314.80 L700.25,311.30 L700.27,307.79 L700.29,304.29 L700.31,300.79 L700.32,297.29 L700.33,293.79 L700.34,290.28 L700.35,286.78 L700.36,283.28 L700.37,279.78 L700.38,276.28 L700.39,272.77 L700.40,269.27 L700.42,265.77 L700.44,262.27 L700.46,258.77 L700.49,255.26 L700.51,251.76 L700.54,248.26 L700.57,244.76 L700.60,241.26 L700.63,237.75 L700.67,234.25 L700.70,230.75 L700.73,227.25 L700.77,223.75 L700.80,220.24 L700.83,216.74 L700.85,213.24 L700.88,209.74 L700.91,206.24 L700.95,202.73 L701.00,199.23 L701.06,195.73 L701.08,195.03 L701.09,194.33 L701.11,193.63 L701.13,192.93 L701.16,192.23 L701.18,191.53 L701.21,190.83 L701.24,190.13 L701.27,189.43 L701.30,188.73 L701.35,188.03 L701.42,187.33 L701.50,186.62 L701.58,185.92 L701.67,185.22 L701.75,184.52 L701.84,183.82 L701.93,183.12 L702.02,182.42 L702.12,181.72 L702.21,181.02 L702.32,180.32 L702.43,179.62 L702.54,178.92 L702.65,178.22 L702.75,177.52 L702.85,176.82 L702.94,176.12 L703.02,175.42 L703.11,174.72 L703.20,174.02 L703.29,173.32 L703.39,172.62 L703.50,171.92 L703.61,171.22 L703.72,170.52 L703.83,169.82 L703.94,169.11 L704.06,168.41 L704.17,167.71 L704.28,167.01 L704.40,166.31 L704.52,165.61 L704.64,164.91 L704.75,164.21 L704.87,163.51 L705.00,162.81 L705.15,162.11 L705.33,161.41 L705.54,160.71 L705.79,160.01 L706.10,159.31 L706.50,158.61 L706.61,158.43 L706.73,158.26 L706.86,158.08 L706.99,157.91 L707.13,157.73 L707.29,157.56 L707.49,157.38 L707.75,157.21 L708.05,157.03 L708.38,156.86 L708.74,156.68 L709.11,156.51 L709.50,156.33 L709.90,156.16 L710.28,155.98 L710.68,155.81 L711.14,155.63 L711.69,155.46 L712.48,155.28 L713.00,155.20"/>
<path d="M732.70,155.70 L733.45,293.10 L734.40,293.90 L734.50,321.10 L734.55,309.90 L735.10,309.10 L735.23,305.78 L735.26,302.46 L735.28,299.15 L735.30,295.83 L735.31,292.51 L735.32,289.19 L735.33,285.87 L735.34,282.56 L735.35,279.24 L735.36,275.92 L735.37,272.60 L735.38,269.28 L735.39,265.97 L735.40,262.65 L735.42,259.33 L735.44,256.01 L735.46,252.69 L735.49,249.38 L735.52,246.06 L735.55,242.74 L735.58,239.42 L735.61,236.10 L735.64,232.79 L735.67,229.47 L735.71,226.15 L735.74,222.83 L735.77,219.51 L735.80,216.20 L735.83,212.88 L735.86,209.56 L735.89,206.24 L735.92,202.92 L735.96,199.61 L736.01,196.29 L736.02,195.62 L736.03,194.96 L736.04,194.30 L736.06,193.63 L736.08,192.97 L736.09,192.31 L736.11,191.64 L736.13,190.98 L736.16,190.32 L736.18,189.65 L736.21,188.99 L736.24,188.32 L736.27,187.66 L736.30,187.00 L736.35,186.33 L736.42,185.67 L736.50,185.01 L736.58,184.34 L736.67,183.68 L736.75,183.02 L736.83,182.35 L736.92,181.69 L737.02,181.03 L737.11,180.36 L737.21,179.70 L737.31,179.03 L737.42,178.37 L737.53,177.71 L737.64,177.04 L737.75,176.38 L737.84,175.72 L737.93,175.05 L738.02,174.39 L738.10,173.73 L738.19,173.06 L738.28,172.40 L738.38,171.73 L738.49,171.07 L738.60,170.41 L738.71,169.74 L738.82,169.08 L738.94,168.42 L739.05,167.75 L739.16,167.09 L739.28,166.43 L739.39,165.76 L739.51,165.10 L739.63,164.44 L739.75,163.77 L739.86,163.11 L739.99,162.44 L740.14,161.78 L740.32,161.12 L740.53,160.45 L740.78,159.79 L741.09,159.13 L741.48,158.46 L741.59,158.30 L741.71,158.13 L741.83,157.97 L741.96,157.80 L742.10,157.63 L742.25,157.47 L742.45,157.30 L742.69,157.14 L742.98,156.97 L743.31,156.80 L743.66,156.64 L744.04,156.47 L744.42,156.31 L744.82,156.14 L745.21,155.97 L745.60,155.81 L746.04,155.64 L746.57,155.48 L747.28,155.31 L748.00,155.20"/>
<path d="M767.70,155.70 L768.45,284.20 L769.40,285.00 L769.50,312.20 L769.55,301.00 L770.10,300.20 L770.24,297.06 L770.26,293.92 L770.28,290.78 L770.30,287.64 L770.31,284.50 L770.33,281.36 L770.34,278.22 L770.35,275.08 L770.35,271.94 L770.36,268.80 L770.37,265.66 L770.38,262.52 L770.39,259.38 L770.41,256.24 L770.43,253.10 L770.45,249.96 L770.47,246.82 L770.50,243.68 L770.52,240.54 L770.55,237.40 L770.58,234.26 L770.62,231.12 L770.65,227.98 L770.68,224.84 L770.71,221.70 L770.75,218.56 L770.78,215.42 L770.81,212.28 L770.84,209.14 L770.87,206.00 L770.89,202.86 L770.93,199.72 L770.97,196.58 L771.02,193.44 L771.03,192.81 L771.04,192.18 L771.06,191.56 L771.08,190.93 L771.09,190.30 L771.11,189.67 L771.13,189.04 L771.16,188.42 L771.18,187.79 L771.21,187.16 L771.24,186.53 L771.27,185.90 L771.30,185.28 L771.35,184.65 L771.42,184.02 L771.50,183.39 L771.58,182.76 L771.67,182.14 L771.75,181.51 L771.84,180.88 L771.93,180.25 L772.02,179.62 L772.11,179.00 L772.21,178.37 L772.31,177.74 L772.42,177.11 L772.53,176.48 L772.64,175.86 L772.75,175.23 L772.85,174.60 L772.94,173.97 L773.02,173.34 L773.11,172.72 L773.19,172.09 L773.29,171.46 L773.39,170.83 L773.49,170.20 L773.60,169.58 L773.71,168.95 L773.83,168.32 L773.94,167.69 L774.05,167.06 L774.17,166.44 L774.28,165.81 L774.40,165.18 L774.52,164.55 L774.64,163.92 L774.75,163.30 L774.87,162.67 L774.99,162.04 L775.14,161.41 L775.32,160.78 L775.53,160.16 L775.78,159.53 L776.10,158.90 L776.49,158.27 L776.60,158.11 L776.72,157.96 L776.84,157.80 L776.98,157.64 L777.12,157.49 L777.27,157.33 L777.47,157.17 L777.72,157.02 L778.02,156.86 L778.34,156.70 L778.70,156.54 L779.08,156.39 L779.46,156.23 L779.86,156.07 L780.24,155.92 L780.64,155.76 L781.09,155.60 L781.63,155.45 L782.38,155.29 L783.00,155.20"/>
<path d="M802.70,155.70 L803.45,275.30 L804.40,276.10 L804.50,303.30 L804.55,292.10 L805.10,291.30 L805.24,288.34 L805.27,285.38 L805.29,282.41 L805.30,279.45 L805.32,276.49 L805.33,273.53 L805.34,270.57 L805.35,267.60 L805.36,264.64 L805.36,261.68 L805.37,258.72 L805.38,255.76 L805.40,252.79 L805.41,249.83 L805.43,246.87 L805.45,243.91 L805.48,240.95 L805.50,237.98 L805.53,235.02 L805.56,232.06 L805.59,229.10 L805.62,226.14 L805.65,223.17 L805.69,220.21 L805.72,217.25 L805.75,214.29 L805.79,211.33 L805.82,208.36 L805.84,205.40 L805.87,202.44 L805.90,199.48 L805.93,196.52 L805.98,193.55 L806.03,190.59 L806.05,190.00 L806.06,189.41 L806.08,188.81 L806.10,188.22 L806.12,187.63 L806.14,187.04 L806.16,186.45 L806.19,185.85 L806.21,185.26 L806.24,184.67 L806.27,184.08 L806.31,183.48 L806.36,182.89 L806.43,182.30 L806.51,181.71 L806.60,181.11 L806.68,180.52 L806.76,179.93 L806.85,179.34 L806.94,178.74 L807.03,178.15 L807.13,177.56 L807.23,176.97 L807.33,176.37 L807.44,175.78 L807.55,175.19 L807.66,174.60 L807.76,174.00 L807.86,173.41 L807.95,172.82 L808.03,172.23 L808.12,171.64 L808.21,171.04 L808.30,170.45 L808.40,169.86 L808.51,169.27 L808.62,168.67 L808.73,168.08 L808.84,167.49 L808.96,166.90 L809.07,166.30 L809.18,165.71 L809.30,165.12 L809.41,164.53 L809.54,163.93 L809.65,163.34 L809.77,162.75 L809.88,162.16 L810.01,161.56 L810.17,160.97 L810.35,160.38 L810.57,159.79 L810.83,159.19 L811.15,158.60 L811.55,158.01 L811.67,157.86 L811.79,157.71 L811.92,157.57 L812.06,157.42 L812.20,157.27 L812.38,157.12 L812.61,156.97 L812.89,156.83 L813.21,156.68 L813.55,156.53 L813.92,156.38 L814.31,156.23 L814.70,156.08 L815.09,155.94 L815.48,155.79 L815.90,155.64 L816.40,155.49 L817.02,155.34 L818.00,155.20"/>
<path d="M837.70,155.70 L838.45,267.60 L839.40,268.40 L839.50,295.60 L839.55,284.40 L840.10,283.60 L840.25,280.79 L840.27,277.98 L840.29,275.18 L840.31,272.37 L840.32,269.56 L840.33,266.75 L840.34,263.94 L840.35,261.14 L840.36,258.33 L840.37,255.52 L840.38,252.71 L840.39,249.90 L840.40,247.10 L840.42,244.29 L840.43,241.48 L840.46,238.67 L840.48,235.86 L840.51,233.06 L840.54,230.25 L840.57,227.44 L840.60,224.63 L840.63,221.82 L840.66,219.02 L840.69,216.21 L840.73,213.40 L840.76,210.59 L840.79,207.78 L840.82,204.98 L840.85,202.17 L840.88,199.36 L840.91,196.55 L840.94,193.74 L840.99,190.94 L841.05,188.13 L841.06,187.57 L841.08,187.00 L841.10,186.44 L841.12,185.88 L841.14,185.32 L841.16,184.76 L841.19,184.20 L841.22,183.64 L841.25,183.07 L841.28,182.51 L841.31,181.95 L841.37,181.39 L841.44,180.83 L841.52,180.27 L841.60,179.70 L841.69,179.14 L841.77,178.58 L841.86,178.02 L841.95,177.46 L842.04,176.90 L842.14,176.33 L842.24,175.77 L842.34,175.21 L842.45,174.65 L842.56,174.09 L842.67,173.53 L842.77,172.96 L842.87,172.40 L842.96,171.84 L843.04,171.28 L843.13,170.72 L843.22,170.16 L843.31,169.60 L843.41,169.03 L843.52,168.47 L843.63,167.91 L843.74,167.35 L843.86,166.79 L843.97,166.23 L844.08,165.66 L844.19,165.10 L844.31,164.54 L844.43,163.98 L844.55,163.42 L844.67,162.86 L844.78,162.29 L844.90,161.73 L845.03,161.17 L845.19,160.61 L845.37,160.05 L845.59,159.49 L845.86,158.92 L846.19,158.36 L846.60,157.80 L846.72,157.66 L846.85,157.52 L846.98,157.38 L847.12,157.24 L847.28,157.10 L847.48,156.96 L847.73,156.82 L848.03,156.68 L848.36,156.54 L848.71,156.40 L849.09,156.26 L849.48,156.12 L849.87,155.98 L850.26,155.84 L850.66,155.70 L851.11,155.56 L851.65,155.41 L852.42,155.27 L853.00,155.20"/>
</g>
<line x1="160" y1="155.2" x2="871.8" y2="155.2" stroke="#f00" stroke-width="3.3" stroke-linecap="round"/>
<path d="M179.50,1182.77 L182.50,1178.11 L185.50,1173.49 L188.50,1168.92 L191.50,1164.38 L194.50,1159.89 L197.50,1155.43 L200.50,1151.01 L203.50,1146.63 L206.50,1142.29 L209.50,1137.99 L212.50,1133.73 L215.50,1129.50 L218.50,1125.31 L221.50,1121.16 L224.50,1117.04 L227.50,1112.96 L230.50,1108.92 L233.50,1104.91 L236.50,1100.94 L239.50,1097.00 L242.50,1093.09 L245.50,1089.22 L248.50,1085.39 L251.50,1081.59 L254.50,1077.82 L257.50,1074.08 L260.50,1070.38 L263.50,1066.71 L266.50,1063.07 L269.50,1059.46 L272.50,1055.89 L275.50,1052.34 L278.50,1048.83 L281.50,1045.34 L284.50,1041.89 L287.50,1038.47 L290.50,1035.08 L293.50,1031.71 L296.50,1028.38 L299.50,1025.08 L302.50,1021.80 L305.50,1018.55 L308.50,1015.33 L311.50,1012.14 L314.50,1008.98 L317.50,1005.84 L320.50,1002.73 L323.50,999.65 L326.50,996.60 L329.50,993.57 L332.50,990.56 L335.50,987.59 L338.50,984.64 L341.50,981.71 L344.50,978.81 L347.50,975.94 L350.50,973.09 L353.50,970.26 L356.50,967.46 L359.50,964.68 L362.50,961.93 L365.50,959.20 L368.50,956.49 L371.50,953.81 L374.50,951.15 L377.50,948.52 L380.50,945.90 L383.50,943.31 L386.50,940.74 L389.50,938.19 L392.50,935.67 L395.50,933.16 L398.50,930.68 L401.50,928.22 L404.50,925.78 L407.50,923.36 L410.50,920.96 L413.50,918.58 L416.50,916.23 L419.50,913.89 L422.50,911.57 L425.50,909.27 L428.50,906.99 L431.50,904.74 L434.50,902.50 L437.50,900.27 L440.50,898.07 L443.50,895.89 L446.50,893.72 L449.50,891.58 L452.50,889.45 L455.50,887.34 L458.50,885.25 L461.50,883.17 L464.50,881.12 L467.50,879.08 L470.50,877.05 L473.50,875.05 L476.50,873.06 L479.50,871.09 L482.50,869.13 L485.50,867.19 L488.50,865.27 L491.50,863.36 L494.50,861.47 L497.50,859.60 L500.50,857.74 L503.50,855.90 L506.50,854.07 L509.50,852.25 L512.50,850.46 L515.50,848.67 L518.50,846.91 L521.50,845.15 L524.50,843.42 L527.50,841.69 L530.50,839.98 L533.50,838.29 L536.50,836.61 L539.50,834.94 L542.50,833.28 L545.50,831.64 L548.50,830.02 L551.50,828.40 L554.50,826.81 L557.50,825.22 L560.50,823.65 L563.50,822.08 L566.50,820.54 L569.50,819.00 L572.50,817.48 L575.50,815.97 L578.50,814.47 L581.50,812.99 L584.50,811.51 L587.50,810.05 L590.50,808.60 L593.50,807.17 L596.50,805.74 L599.50,804.33 L602.50,802.93 L605.50,801.53 L608.50,800.15 L611.50,798.79 L614.50,797.43 L617.50,796.08 L620.50,794.75 L623.50,793.42 L626.50,792.11 L629.50,790.80 L632.50,789.51 L635.50,788.23 L638.50,786.96 L641.50,785.69 L644.50,784.44 L647.50,783.20 L650.50,781.97 L653.50,780.75 L656.50,779.53 L659.50,778.33 L662.50,777.14 L665.50,775.95 L668.50,774.78 L671.50,773.61 L674.50,772.46 L677.50,771.31 L680.50,770.17 L683.50,769.04 L686.50,767.92 L689.50,766.81 L692.50,765.71 L695.50,764.62 L698.50,763.53 L701.50,762.46 L704.50,761.39 L707.50,760.33 L710.50,759.28 L713.50,758.23 L716.50,757.20 L719.50,756.17 L722.50,755.15 L725.50,754.14 L728.50,753.14 L731.50,752.14 L734.50,751.15 L737.50,750.17 L740.50,749.20 L743.50,748.24 L746.50,747.28 L749.50,746.33 L752.50,745.38 L755.50,744.45 L758.50,743.52 L761.50,742.60 L764.50,741.68 L767.50,740.77 L770.50,739.87 L773.50,738.98 L776.50,738.09 L779.50,737.21 L782.50,736.34 L785.50,735.47 L788.50,734.61 L791.50,733.75 L794.50,732.90 L797.50,732.06 L800.50,731.23 L803.50,730.40 L806.50,729.57 L809.50,728.76 L812.50,727.95 L815.50,727.14 L818.50,726.34 L821.50,725.55 L824.50,724.76 L827.50,723.98 L830.50,723.20 L833.50,722.43" fill="none" stroke="#f00" stroke-width="2.6" stroke-linecap="round"/>
<g fill="#000">
<circle cx="184.3" cy="1187.8" r="8.7"/>
<circle cx="217.8" cy="1131.2" r="8.7"/>
<circle cx="251.7" cy="1078.8" r="8.7"/>
<circle cx="285.8" cy="1033" r="8.7"/>
<circle cx="320.4" cy="995.6" r="8.7"/>
<circle cx="355.1" cy="962" r="8.7"/>
<circle cx="390.1" cy="941.3" r="8.7"/>
<circle cx="425.8" cy="902.5" r="8.7"/>
<circle cx="461.7" cy="877.7" r="8.7"/>
<circle cx="497.7" cy="857" r="8.7"/>
<circle cx="534" cy="835.7" r="8.7"/>
<circle cx="570.7" cy="817" r="8.7"/>
<circle cx="607.7" cy="803.7" r="8.7"/>
<circle cx="645.3" cy="787" r="8.7"/>
<circle cx="683.1" cy="773.2" r="8.7"/>
<circle cx="721.3" cy="760.5" r="8.7"/>
<circle cx="759.6" cy="747.4" r="8.7"/>
<circle cx="798.4" cy="736.9" r="8.7"/>
<circle cx="837.4" cy="728.6" r="8.7"/>
</g>
<g style="font-family:'Liberation Sans',sans-serif;font-weight:bold" fill="#000">
<text transform="translate(4.6,39.7) scale(0.917,1)" font-size="57.3">a</text>
<text x="515.3" y="62.7" font-size="36" text-anchor="middle">Time (min)</text>
<text x="158.50" y="114.3" font-size="25" text-anchor="middle">0</text>
<text x="298.28" y="114.3" font-size="25" text-anchor="middle">10</text>
<text x="438.06" y="114.3" font-size="25" text-anchor="middle">20</text>
<text x="577.84" y="114.3" font-size="25" text-anchor="middle">30</text>
<text x="717.62" y="114.3" font-size="25" text-anchor="middle">40</text>
<text x="857.40" y="114.3" font-size="25" text-anchor="middle">50</text>
<text x="120.5" y="164.20" font-size="25" text-anchor="end">0</text>
<text x="120.5" y="257.74" font-size="25" text-anchor="end">-5</text>
<text x="120.5" y="351.28" font-size="25" text-anchor="end">-10</text>
<text x="120.5" y="444.82" font-size="25" text-anchor="end">-15</text>
<text x="120.5" y="538.36" font-size="25" text-anchor="end">-20</text>
<text x="120.5" y="631.90" font-size="25" text-anchor="end">-25</text>
<text x="120.5" y="720.80" font-size="25" text-anchor="end">-1</text>
<text x="120.5" y="866.87" font-size="25" text-anchor="end">-2</text>
<text x="120.5" y="1012.94" font-size="25" text-anchor="end">-3</text>
<text x="120.5" y="1159.01" font-size="25" text-anchor="end">-4</text>
<text x="144.80" y="1286" font-size="25" text-anchor="middle">0</text>
<text x="227.09" y="1286" font-size="25" text-anchor="middle">1</text>
<text x="309.38" y="1286" font-size="25" text-anchor="middle">2</text>
<text x="391.67" y="1286" font-size="25" text-anchor="middle">3</text>
<text x="473.96" y="1286" font-size="25" text-anchor="middle">4</text>
<text x="556.25" y="1286" font-size="25" text-anchor="middle">5</text>
<text x="638.54" y="1286" font-size="25" text-anchor="middle">6</text>
<text x="720.83" y="1286" font-size="25" text-anchor="middle">7</text>
<text x="803.12" y="1286" font-size="25" text-anchor="middle">8</text>
<text x="885.41" y="1286" font-size="25" text-anchor="middle">9</text>
<text x="515.8" y="1336" font-size="36" text-anchor="middle">Molar ratio</text>
<text transform="translate(41.2,405.6) rotate(-90)" font-size="35.5" text-anchor="middle">µJ s<tspan font-size="23" dy="-17">-1</tspan></text>
<text transform="translate(77.2,959.5) rotate(-90)" font-size="35.8" text-anchor="middle">kJ mol<tspan font-size="24" dy="-17">-1</tspan><tspan dy="17"> of injectant</tspan></text>
</g>
<g fill="none" stroke="#000" stroke-width="3" stroke-linecap="round">
<rect x="150.4" y="1419.2" width="736.6" height="551.3999999999999" stroke-width="3.3"/>
<line x1="139.3" y1="1419.20" x2="150.4" y2="1419.20"/>
<line x1="139.3" y1="1488.14" x2="150.4" y2="1488.14"/>
<line x1="139.3" y1="1557.08" x2="150.4" y2="1557.08"/>
<line x1="139.3" y1="1626.02" x2="150.4" y2="1626.02"/>
<line x1="139.3" y1="1694.96" x2="150.4" y2="1694.96"/>
<line x1="139.3" y1="1763.90" x2="150.4" y2="1763.90"/>
<line x1="139.3" y1="1832.84" x2="150.4" y2="1832.84"/>
<line x1="139.3" y1="1901.78" x2="150.4" y2="1901.78"/>
<line x1="139.3" y1="1970.72" x2="150.4" y2="1970.72"/>
<line x1="214.00" y1="1970.6" x2="214.00" y2="1980.8999999999999"/>
<line x1="374.00" y1="1970.6" x2="374.00" y2="1980.8999999999999"/>
<line x1="534.00" y1="1970.6" x2="534.00" y2="1980.8999999999999"/>
<line x1="694.00" y1="1970.6" x2="694.00" y2="1980.8999999999999"/>
<line x1="854.00" y1="1970.6" x2="854.00" y2="1980.8999999999999"/>
<line x1="150.4" y1="1913.2" x2="887.0" y2="1431.6" stroke-width="2.8" stroke-linecap="butt"/>
</g>
<g fill="#00f">
<circle cx="225.2" cy="1884.8" r="10.4"/>
<circle cx="305.6" cy="1798.8" r="10.4"/>
<circle cx="466.8" cy="1697.2" r="10.4"/>
<circle cx="687.7" cy="1567.6" r="10.4"/>
<circle cx="706.5" cy="1509.8" r="10.4"/>
<circle cx="814.9" cy="1509.8" r="10.4"/>
</g>
<g style="font-family:'Liberation Sans',sans-serif;font-weight:bold" fill="#000">
<text x="12" y="1409" font-size="56">b</text>
<text x="125.5" y="1428.20" font-size="25" text-anchor="end">-12</text>
<text x="125.5" y="1497.14" font-size="25" text-anchor="end">-14</text>
<text x="125.5" y="1566.08" font-size="25" text-anchor="end">-16</text>
<text x="125.5" y="1635.02" font-size="25" text-anchor="end">-18</text>
<text x="125.5" y="1703.96" font-size="25" text-anchor="end">-20</text>
<text x="125.5" y="1772.90" font-size="25" text-anchor="end">-22</text>
<text x="125.5" y="1841.84" font-size="25" text-anchor="end">-24</text>
<text x="125.5" y="1910.78" font-size="25" text-anchor="end">-26</text>
<text x="125.5" y="1979.72" font-size="25" text-anchor="end">-28</text>
<text x="214.00" y="2018.7" font-size="25" text-anchor="middle">-15</text>
<text x="374.00" y="2018.7" font-size="25" text-anchor="middle">-10</text>
<text x="534.00" y="2018.7" font-size="25" text-anchor="middle">-5</text>
<text x="694.00" y="2018.7" font-size="25" text-anchor="middle">0</text>
<text x="854.00" y="2018.7" font-size="25" text-anchor="middle">5</text>
<text x="279.3" y="2082.9" font-size="32.2">Binding entropy T</text>
<path d="M556.90,2083.10 L578.00,2083.10 L576.70,2058.90 L575.20,2058.90 Z M561.60,2080.70 L572.50,2080.70 L574.00,2063.50 Z" fill="#000" fill-rule="evenodd"/>
<text x="579.2" y="2082.9" font-size="32.2" font-style="italic">S</text>
<text x="602.5" y="2082.9" font-size="32.2">°</text>
<text x="612.8" y="2092.3" font-size="20.5" font-style="italic">b</text>
<text x="634" y="2082.9" font-size="32.5">(kJ mol</text>
<text x="747" y="2066.4" font-size="21.5">-1</text>
<text x="767.6" y="2082.9" font-size="32.2">)</text>
<text transform="translate(42.20,1942.00) rotate(-90)" font-size="32.4" >Binding enthalpy</text>
<path d="M42.50,1670.00 L42.50,1648.90 L18.30,1650.20 L18.30,1651.70 Z M40.10,1665.30 L40.10,1654.40 L22.90,1652.90 Z" fill="#000" fill-rule="evenodd"/>
<text transform="translate(42.20,1647.90) rotate(-90)" font-size="32.4" font-style="italic">H</text>
<text transform="translate(42.20,1622.90) rotate(-90)" font-size="32.4" >°</text>
<text transform="translate(52.20,1612.10) rotate(-90)" font-size="21.5" font-style="italic">b</text>
<text transform="translate(42.20,1590.60) rotate(-90)" font-size="32.4" >(kJ mol</text>
<text transform="translate(25.50,1477.20) rotate(-90)" font-size="21" >-1</text>
<text transform="translate(42.20,1457.60) rotate(-90)" font-size="32.4" >)</text>
</g>
</svg>
</body></html>
